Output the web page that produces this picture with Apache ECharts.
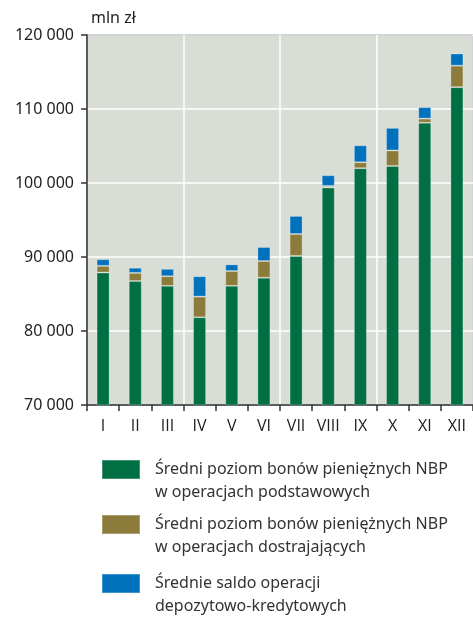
<!DOCTYPE html>
<html style="height: 100%">
<head>
    <meta charset="utf-8">
    <title>Bony pieniężne NBP</title>
</head>
<body style="margin:0">
<div id="container" style="width:473px;height:619px"></div>

<script src="https://cdn.jsdelivr.net/npm/echarts@6/dist/echarts.min.js" type="text/javascript"></script>
<script type="text/javascript">

    var months = ['I', 'II', 'III', 'IV', 'V', 'VI', 'VII', 'VIII', 'IX', 'X', 'XI', 'XII'];
    var seriesNames = [
        'Średni poziom bonów pieniężnych NBP\nw operacjach podstawowych',
        'Średni poziom bonów pieniężnych NBP\nw operacjach dostrajających',
        'Średnie saldo operacji\ndepozytowo-kredytowych'
    ];
    // mln zł
    var podstawowe = [87900, 86750, 86100, 81850, 86100, 87200, 90150, 99400, 102000, 102300, 108150, 112950];
    var dostrajajace = [900, 1100, 1300, 2800, 2000, 2250, 2950, 200, 800, 2100, 550, 2900];
    var saldo = [900, 700, 1000, 2750, 900, 1900, 2450, 1450, 2300, 3050, 1550, 1650];

    var colors = ['#007044', '#8c7b3a', '#0071bd'];
    var font = 'Noto Sans';

    var dom = document.getElementById('container');
    var myChart = echarts.init(dom);

    function fmt(v) {
        return String(v).replace(/\B(?=(\d{3})+(?!\d))/g, ' ');
    }

    // empty first line so that the icon sits next to the first text line
    function legendAt(i, top) {
        return {
            data: [seriesNames[i]],
            left: 101,
            top: top,
            padding: 0,
            orient: 'vertical',
            icon: 'rect',
            itemWidth: 38,
            itemHeight: 19,
            selectedMode: false,
            formatter: function (name) { return '\n' + name; },
            textStyle: {
                fontFamily: font,
                fontSize: 16,
                lineHeight: 23,
                color: '#333',
                padding: [0, 0, 0, 10]
            }
        };
    }

    function barSeries(i, data) {
        return {
            name: seriesNames[i],
            type: 'bar',
            stack: 'total',
            barWidth: 13,
            data: data,
            itemStyle: {
                color: colors[i],
                borderColor: 'rgba(255,255,255,0.25)',
                borderWidth: 1
            }
        };
    }

    var option = {
        animation: false,
        color: colors,
        grid: {
            left: 87,
            top: 35,
            right: -8,
            bottom: 214,
            show: true,
            backgroundColor: '#d8ddd6',
            borderColor: '#555',
            borderWidth: 2
        },
        legend: [legendAt(0, 435), legendAt(1, 490), legendAt(2, 549)],
        xAxis: {
            type: 'category',
            data: months,
            axisLine: {lineStyle: {color: '#333', width: 1.5}},
            axisTick: {
                show: true,
                length: 6,
                lineStyle: {color: '#333', width: 1.5}
            },
            axisLabel: {
                interval: 0,
                fontFamily: 'Open Sans',
                fontSize: 16,
                color: '#222',
                margin: 13
            },
            splitLine: {
                show: true,
                interval: function (index) { return index % 3 === 0; },
                lineStyle: {color: '#fff', width: 1.5}
            }
        },
        yAxis: {
            type: 'value',
            min: 70000,
            max: 120000,
            interval: 10000,
            name: 'mln zł',
            nameLocation: 'end',
            nameGap: 9,
            nameTextStyle: {
                fontFamily: font,
                fontSize: 16,
                color: '#222',
                align: 'left',
                padding: [0, 0, 0, 4]
            },
            axisLine: {show: true, lineStyle: {color: '#333', width: 1.5}},
            axisTick: {
                show: true,
                length: 6,
                lineStyle: {color: '#333', width: 1.5}
            },
            axisLabel: {
                fontFamily: font,
                fontSize: 16,
                color: '#222',
                margin: 13,
                formatter: fmt
            },
            splitLine: {lineStyle: {color: '#fff', width: 1.5}}
        },
        series: [
            barSeries(0, podstawowe),
            barSeries(1, dostrajajace),
            barSeries(2, saldo)
        ]
    };

    myChart.setOption(option);
</script>
</body>
</html>
